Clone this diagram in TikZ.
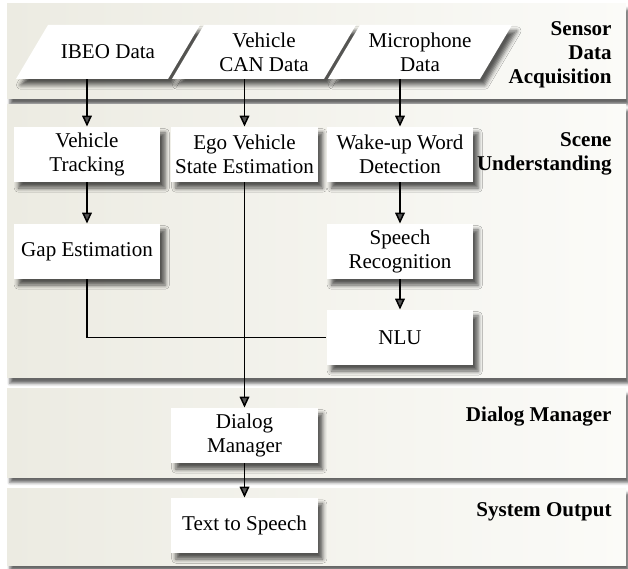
\documentclass[tikz,border=0pt]{standalone}
\usepackage{fontspec}
\setmainfont{Liberation Serif}
\usetikzlibrary{shadows.blur,arrows.meta}
\definecolor{bandleft}{RGB}{236,235,226}
\definecolor{bandright}{RGB}{251,251,248}
\begin{document}
\begin{tikzpicture}[x=0.0167cm,y=-0.0167cm,
		font=\fontsize{10}{11.5}\selectfont,
		band/.style={left color=bandleft,right color=bandright,blur shadow={shadow xshift=0.05cm,shadow yshift=-0.09cm,shadow blur radius=0.05cm,shadow opacity=60}},
		card/.style={fill=white,blur shadow={shadow xshift=0.08cm,shadow yshift=-0.1cm,shadow blur radius=0.07cm,shadow opacity=65}},
		box/.style={card,minimum width=2.45cm,minimum height=0.92cm,align=center,inner sep=1pt},
		data/.style={minimum width=2.54cm,minimum height=0.9cm,align=center,inner sep=1pt},
		layer/.style={anchor=east,align=right,font=\fontsize{10}{11.5}\selectfont\bfseries},
		line/.style={line width=0.7pt},
		arr/.style={line,-{Triangle[length=1.8mm,width=1.6mm]}}]
		\useasboundingbox (0,0) rectangle (628,569);
		% layers
		\fill[band] (7,4) rectangle (626,99);
		\fill[band] (7,105) rectangle (626,378);
		\fill[band] (7,389) rectangle (626,477);
		\fill[band] (7,488) rectangle (626,565);
		\node[layer] (acq) at (619,55) {Sensor\\Data\\Acquisition};
		\node[layer] (scene) at (619,153.5) {Scene\\Understanding};
		\node[layer] (dm) at (619,417) {Dialog Manager};
		\node[layer] (out) at (619,512) {System Output};
		% sensors
		\foreach \x in {16,172,328}
			\fill[card] (\x,79) -- ++(152,0) -- ++(32,-54) -- ++(-152,0) -- cycle;
		\node[data] (ibeo) at (108,52) {IBEO Data};
		\node[data] (can) at (264,52) {Vehicle\\CAN Data};
		\node[data] (mic) at (420,52) {Microphone\\Data};
		% modules
		\node[box] (track) at (87,154.5) {Vehicle\\Tracking};
		\node[box] (ego) at (244.5,154.5) {Ego Vehicle\\State Estimation};
		\node[box] (wake) at (400,154.5) {Wake-up Word\\Detection};
		\node[box] (gap) at (87,251.5) {Gap Estimation};
		\node[box] (speech) at (400,251.5) {Speech\\Recognition};
		\node[box] (nlu) at (400,337.5) {NLU};
		\node[box] (dialog) at (244.5,435.5) {Dialog\\Manager};
		\node[box] (tts) at (244.5,525.5) {Text to Speech};
		% connections
		\draw[arr] (ibeo.south -| track.north) -- (track.north);
		\draw[arr] (can.south -| ego.north) -- (ego.north);
		\draw[arr] (mic.south -| wake.north) -- (wake.north);
		\draw[arr] (track) -- (gap);
		\draw[arr] (wake) -- (speech);
		\draw[arr] (speech) -- (nlu);
		\draw[line] (gap.south) |- (nlu.west);
		\draw[arr] (ego) -- (dialog);
		\draw[arr] (dialog) -- (tts);
	\end{tikzpicture}
\end{document}
